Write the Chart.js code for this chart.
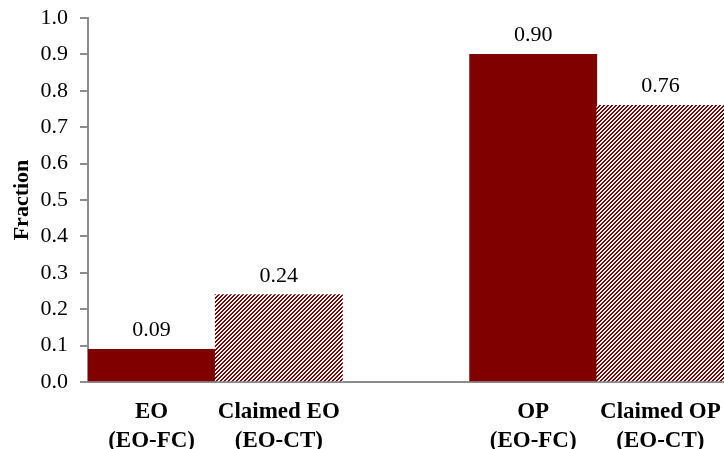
<!DOCTYPE html>
<html>
<head>
<meta charset="utf-8">
<script src="https://cdn.jsdelivr.net/npm/chart.js@4/dist/chart.umd.min.js"></script>
<style>
  html, body { margin: 0; padding: 0; background: #fff; }
  #wrap { width: 724px; height: 449px; }
</style>
</head>
<body>
<div id="wrap"><canvas id="c" width="724" height="449"></canvas></div>
<script>
// Category labels (two lines each); the middle slot is an empty spacer
const categories = [
  ['EO', '(EO-FC)'],
  ['Claimed EO', '(EO-CT)'],
  '',
  ['OP', '(EO-FC)'],
  ['Claimed OP', '(EO-CT)']
];
// Fractions per category
const fractions = [0.09, 0.24, null, 0.90, 0.76];
// Fill style: solid for EO-FC, hatched for EO-CT
const fillKind = ['solid', 'hatch', 'solid', 'solid', 'hatch'];
const yTicks = [0, 0.1, 0.2, 0.3, 0.4, 0.5, 0.6, 0.7, 0.8, 0.9, 1.0];

const DARK_RED = '#800000';
const AXIS_GREY = '#8c8c8c';
const SERIF = '"Liberation Serif", "Times New Roman", serif';

// Diagonal hatch pattern (dark red stripes on white)
function makeHatch() {
  const p = document.createElement('canvas');
  p.width = 4; p.height = 4;
  const g = p.getContext('2d');
  g.fillStyle = '#ffffff';
  g.fillRect(0, 0, 4, 4);
  g.fillStyle = DARK_RED;
  for (let x = 0; x < 4; x++) {
    for (let y = 0; y < 4; y++) {
      const k = (x + y) % 4;
      if (k === 0 || k === 1) g.fillRect(x, y, 1, 1);
    }
  }
  return g.createPattern(p, 'repeat');
}

const ctx = document.getElementById('c').getContext('2d');
const hatch = makeHatch();
const colors = fillKind.map(k => k === 'hatch' ? hatch : DARK_RED);

// Writes each bar's value above it
const valueLabels = {
  id: 'valueLabels',
  afterDatasetsDraw(chart) {
    const c = chart.ctx;
    const meta = chart.getDatasetMeta(0);
    c.save();
    c.font = '22px ' + SERIF;
    c.fillStyle = '#000';
    c.textAlign = 'center';
    c.textBaseline = 'alphabetic';
    meta.data.forEach((bar, i) => {
      const v = fractions[i];
      if (v === null) return;
      c.fillText(v.toFixed(2), bar.x, bar.y - 13);
    });
    c.restore();
  }
};

new Chart(ctx, {
  type: 'bar',
  data: {
    labels: categories,
    datasets: [{
      data: fractions,
      backgroundColor: colors,
      borderWidth: 0,
      barPercentage: 1.0,
      categoryPercentage: 1.0
    }]
  },
  options: {
    responsive: false,
    animation: false,
    layout: { padding: { top: 18, right: 0, left: 0, bottom: 0 } },
    plugins: { legend: { display: false }, tooltip: { enabled: false } },
    scales: {
      x: {
        grid: { display: false, drawTicks: false },
        border: { display: true, color: AXIS_GREY, width: 2 },
        ticks: {
          color: '#000',
          font: { family: SERIF, size: 23, weight: 'bold', lineHeight: 1.27 },
          padding: 15,
          maxRotation: 0,
          autoSkip: false
        },
        afterFit(axis) {
          axis.height = 67;
          axis.paddingLeft = 0;
          axis.paddingRight = 0;
        }
      },
      y: {
        min: 0,
        max: 1.0,
        afterBuildTicks(axis) { axis.ticks = yTicks.map(v => ({ value: v })); },
        grid: {
          display: true,
          drawOnChartArea: false,
          drawTicks: true,
          tickLength: 8,
          color: AXIS_GREY,
          lineWidth: 2
        },
        border: { display: true, color: AXIS_GREY, width: 2 },
        ticks: {
          color: '#000',
          font: { family: SERIF, size: 22 },
          padding: 12,
          callback: v => v.toFixed(1)
        },
        title: {
          display: true,
          text: 'Fraction',
          color: '#000',
          font: { family: SERIF, size: 22, weight: 'bold' },
          padding: { top: 9, bottom: 0 }
        },
        afterFit(axis) {
          axis.width = 88;
          axis.paddingTop = 0;
          axis.paddingBottom = 0;
        }
      }
    }
  },
  plugins: [valueLabels]
});
</script>
</body>
</html>
